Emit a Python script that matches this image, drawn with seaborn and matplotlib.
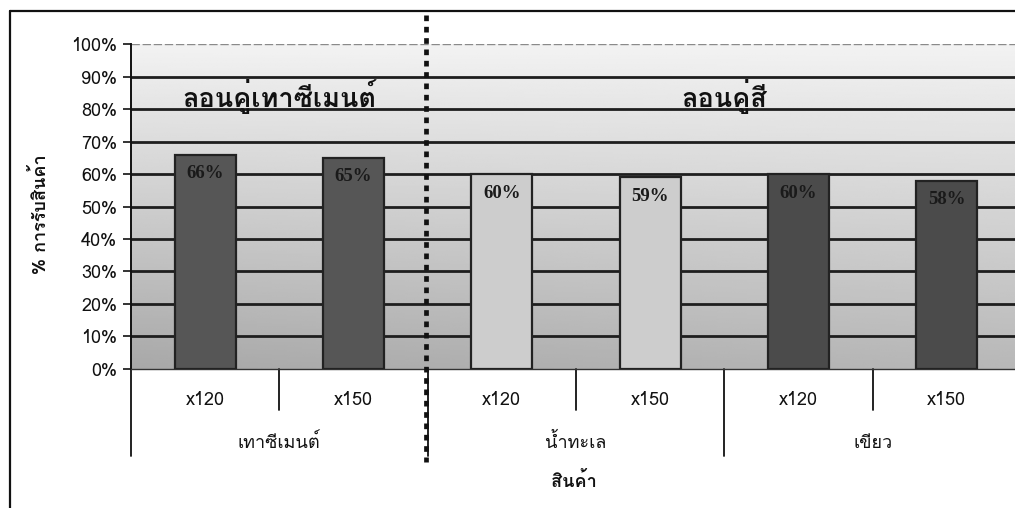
import numpy as np
import pandas as pd
import matplotlib
matplotlib.use("Agg")
import matplotlib.pyplot as plt
from matplotlib import font_manager
from matplotlib.ft2font import FT2Font
from matplotlib.lines import Line2D
import matplotlib.transforms as mtransforms
import seaborn as sns

# ---- data ----
groups = ["เทาซีเมนต์", "น้ำทะเล", "เขียว"]
sizes = ["x120", "x150"]
values = [66, 65, 60, 59, 60, 58]
bar_colors = ["#565656", "#565656", "#cdcdcd", "#cdcdcd", "#4b4b4b", "#4b4b4b"]
section_titles = ["ลอนคู่เทาซีเมนต์", "ลอนคู่สี"]
y_ticks = [0, 10, 20, 30, 40, 50, 60, 70, 80, 90, 100]
x_title = "สินค้า"
y_title = "% การรับสินค้า"


def find_thai_font():
    """Return the name of an installed family that covers Thai script."""
    seen = set()
    for entry in font_manager.fontManager.ttflist:
        if entry.fname in seen:
            continue
        seen.add(entry.fname)
        try:
            cmap = FT2Font(entry.fname).get_charmap()
        except Exception:
            continue
        if 0x0E2A in cmap and 0x0E49 in cmap:
            return entry.name
    return None


sns.set_theme(style="white")
thai = find_thai_font()
families = ([thai] if thai else []) + ["DejaVu Sans"]
plt.rcParams["font.family"] = families

slots = [f"{g} {s}" for g in groups for s in sizes]
df = pd.DataFrame({"slot": slots, "value": values})

fig = plt.figure(figsize=(10.15, 5.08), dpi=100)
fig.patch.set_facecolor("white")
ax = fig.add_axes([131 / 1015, 139.3 / 508, 890 / 1015, 324.4 / 508])

# gradient plot background
ny, nx = 200, 60
yy = np.linspace(0, 1, ny)[:, None]
xx = np.linspace(0, 1, nx)[None, :]
shade = 0.66 + 0.29 * yy + 0.06 * xx * (1 - yy)
ax.imshow(np.clip(shade, 0, 1), cmap="gray", vmin=0, vmax=1, origin="lower",
          extent=(-0.5, 5.5, 0, 100), aspect="auto", zorder=0,
          interpolation="bilinear")

# horizontal grid
for t in y_ticks[1:-1]:
    ax.axhline(t, color="#1e1e1e", lw=2.0, zorder=1)
ax.axhline(100, color="#8a8a8a", lw=1.0, ls=(0, (6, 2)), zorder=1)

sns.barplot(data=df, x="slot", y="value", hue="slot", order=slots,
            hue_order=slots, palette=dict(zip(slots, bar_colors)),
            width=0.41, edgecolor="#222222", linewidth=1.6, legend=False,
            saturation=1, ax=ax, zorder=3)

ax.set_xlim(-0.5, 5.5)
ax.set_ylim(0, 100)
ax.set_yticks(y_ticks)
ax.set_yticklabels([f"{t}%" for t in y_ticks], fontsize=13, color="#111111")
ax.set_xticks([])
ax.set_xlabel("")
ax.set_ylabel("")
ax.tick_params(axis="y", length=6, width=1.2, color="#111111", pad=4,
               left=True)
for side in ["top", "right"]:
    ax.spines[side].set_visible(False)
ax.spines["left"].set_color("#111111")
ax.spines["left"].set_linewidth(1.4)
ax.spines["bottom"].set_color("#333333")
ax.spines["bottom"].set_linewidth(1.0)

# value labels inside the bars
for i, v in enumerate(values):
    ax.annotate(f"{v}%", xy=(i, v), xytext=(0, -19), textcoords="offset pixels",
                ha="center", va="center", fontsize=13.5, fontweight="bold",
                family=["Liberation Serif", "DejaVu Serif"], color="#1a1a1a",
                zorder=5)

# category axis: sizes, groups and divider ticks
trans = mtransforms.blended_transform_factory(ax.transData, ax.transAxes)
for i, s in enumerate(sizes * len(groups)):
    ax.text(i, -0.0955, s, transform=trans, ha="center", va="center",
            fontsize=13, color="#111111")
for g_i, g in enumerate(groups):
    ax.text(g_i * 2 + 0.5, -0.228, g, transform=trans, ha="center",
            va="center", fontsize=13, color="#111111")
for b in [0.5, 2.5, 4.5]:
    ax.add_line(Line2D([b, b], [0, -0.126], transform=trans, color="#111111",
                       lw=1.3, clip_on=False))
for b in [-0.5, 1.5, 3.5]:
    ax.add_line(Line2D([b, b], [0, -0.268], transform=trans, color="#111111",
                       lw=1.3, clip_on=False))
ax.text(0.498, -0.348, x_title, transform=ax.transAxes, ha="center",
        va="center", fontsize=13, fontweight="bold", color="#111111")
ax.text(-0.102, 0.475, y_title, transform=ax.transAxes, ha="center",
        va="center", rotation=90, fontsize=13, fontweight="bold",
        color="#111111")

# section headings
ax.text(0.5, 84, section_titles[0], ha="center", va="center", fontsize=19.5,
        fontweight="bold", color="#111111", zorder=6)
ax.text(3.5, 84, section_titles[1], ha="center", va="center", fontsize=19.5,
        fontweight="bold", color="#111111", zorder=6)

# dotted separator between the two sections
sep_x = 426 / 1015
fig.add_artist(Line2D([sep_x, sep_x], [1 - 15 / 508, 1 - 462 / 508],
                      transform=fig.transFigure, color="#111111", lw=3.4,
                      ls=(0, (1.2, 1.2)), solid_capstyle="butt",
                      dash_capstyle="butt", zorder=10))

# chart frame
fig.add_artist(Line2D([10 / 1015, 1.0], [1 - 11 / 508, 1 - 11 / 508],
                      transform=fig.transFigure, color="#111111", lw=1.6))
fig.add_artist(Line2D([10 / 1015, 10 / 1015], [1 - 11 / 508, 0.0],
                      transform=fig.transFigure, color="#111111", lw=1.6))

fig.savefig("out.png", dpi=100, facecolor="white")
